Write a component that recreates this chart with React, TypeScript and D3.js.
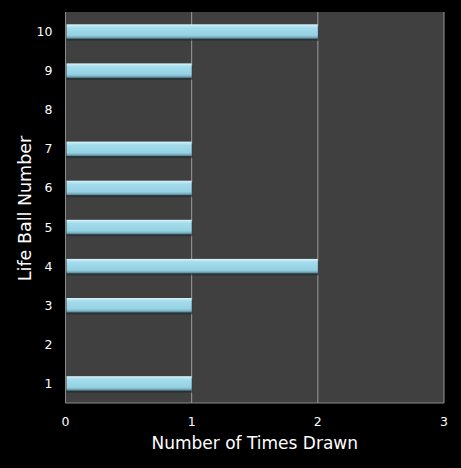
import React, { useEffect, useRef } from 'react'
import * as d3 from 'd3'

const ballNumbers = ['1', '2', '3', '4', '5', '6', '7', '8', '9', '10']
const timesDrawn = [1, 0, 1, 2, 1, 1, 1, 0, 1, 2]
const xTicks = [0, 1, 2, 3]

const W = 461
const H = 468

const App: React.FC = () => {
  const svgRef = useRef<SVGSVGElement>(null)

  useEffect(() => {
    if (!svgRef.current) return
    const svg = d3.select(svgRef.current)
    svg.selectAll('*').remove()

    const margin = { top: 12, right: 17, bottom: 65, left: 65.5 }
    const width = W - margin.left - margin.right
    const height = H - margin.top - margin.bottom

    svg.append('rect').attr('width', W).attr('height', H).attr('fill', '#000')

    // bar gradient
    const defs = svg.append('defs')
    const grad = defs.append('linearGradient')
      .attr('id', 'barGrad')
      .attr('x1', 0).attr('y1', 0).attr('x2', 0).attr('y2', 1)
    const stops: [string, string][] = [
      ['0%', '#e4f7fc'],
      ['12%', '#b6e6f3'],
      ['25%', '#a2dcec'],
      ['75%', '#96d2e3'],
      ['88%', '#7fb6c6'],
      ['100%', '#4e7a86']
    ]
    stops.forEach(([o, c]) => grad.append('stop').attr('offset', o).attr('stop-color', c))

    const g = svg.append('g')
      .attr('transform', `translate(${margin.left},${margin.top})`)

    const x = d3.scaleLinear().domain([0, 3]).range([0, width])
    const y = d3.scaleBand()
      .domain([...ballNumbers].reverse())
      .range([0, height])
      .paddingInner(0.63)
      .paddingOuter(0.315)

    // plot background
    g.append('rect')
      .attr('width', width)
      .attr('height', height)
      .attr('fill', '#404040')

    // gridlines
    g.selectAll('.grid')
      .data(xTicks.slice(1))
      .enter()
      .append('line')
      .attr('x1', d => x(d))
      .attr('x2', d => x(d))
      .attr('y1', 0)
      .attr('y2', height)
      .attr('stroke', '#9a9a9a')
      .attr('stroke-width', 1)

    // axis border left/bottom
    g.append('line')
      .attr('x1', 0).attr('x2', 0).attr('y1', 0).attr('y2', height)
      .attr('stroke', '#8a8a8a')
    g.append('line')
      .attr('x1', 0).attr('x2', width).attr('y1', height).attr('y2', height)
      .attr('stroke', '#8a8a8a')

    const data = ballNumbers.map((b, i) => ({ b, v: timesDrawn[i] })).filter(d => d.v > 0)

    // bar shadow
    g.selectAll('.shadow')
      .data(data)
      .enter()
      .append('rect')
      .attr('x', 1)
      .attr('y', d => (y(d.b) ?? 0) + 2)
      .attr('width', d => x(d.v))
      .attr('height', y.bandwidth())
      .attr('fill', '#1e2a2e')
      .attr('opacity', 0.6)

    g.selectAll('.bar')
      .data(data)
      .enter()
      .append('rect')
      .attr('x', 1)
      .attr('y', d => y(d.b) ?? 0)
      .attr('width', d => x(d.v) - 1)
      .attr('height', y.bandwidth())
      .attr('fill', 'url(#barGrad)')

    // y tick labels
    g.selectAll('.ylab')
      .data(ballNumbers)
      .enter()
      .append('text')
      .attr('x', -13)
      .attr('y', d => (y(d) ?? 0) + y.bandwidth() / 2)
      .attr('dy', '0.36em')
      .attr('text-anchor', 'end')
      .attr('fill', '#fff')
      .style('font-family', 'DejaVu Sans, Verdana, sans-serif')
      .style('font-size', '12.5px')
      .text(d => d)

    // x tick labels
    g.selectAll('.xlab')
      .data(xTicks)
      .enter()
      .append('text')
      .attr('x', d => x(d))
      .attr('y', height + 23)
      .attr('text-anchor', 'middle')
      .attr('fill', '#fff')
      .style('font-family', 'DejaVu Sans, Verdana, sans-serif')
      .style('font-size', '12.5px')
      .text(d => String(d))

    // axis titles
    svg.append('text')
      .attr('x', margin.left + width / 2)
      .attr('y', 449)
      .attr('text-anchor', 'middle')
      .attr('fill', '#fff')
      .style('font-family', 'DejaVu Sans, Verdana, sans-serif')
      .style('font-size', '17px')
      .text('Number of Times Drawn')

    svg.append('text')
      .attr('transform', `translate(31,${margin.top + height / 2 + 1}) rotate(-90)`)
      .attr('text-anchor', 'middle')
      .attr('fill', '#fff')
      .style('font-family', 'DejaVu Sans, Verdana, sans-serif')
      .style('font-size', '17.5px')
      .text('Life Ball Number')
  }, [])

  return (
    <svg
      ref={svgRef}
      width={W}
      height={H}
      style={{ position: 'absolute', left: 0, top: 0, display: 'block' }}
    />
  )
}

export default App
